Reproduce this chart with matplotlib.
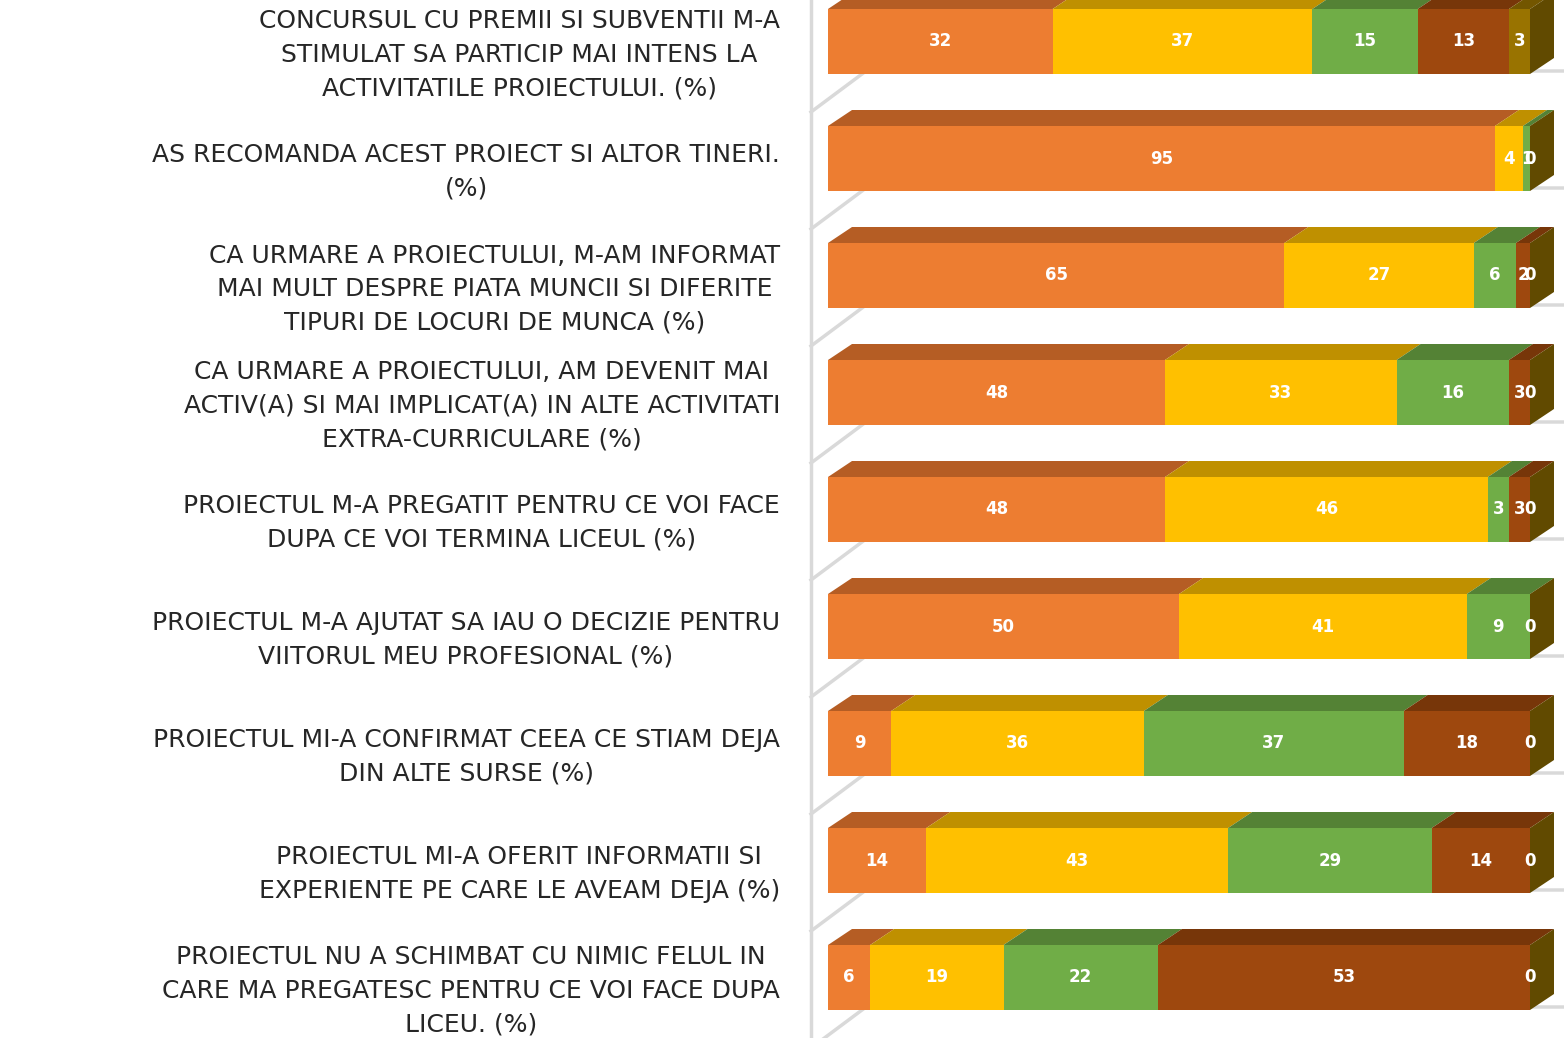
import matplotlib
matplotlib.use("Agg")
import matplotlib.pyplot as plt
import numpy as np

categories = [
    "CONCURSUL CU PREMII SI SUBVENTII M-A\nSTIMULAT SA PARTICIP MAI INTENS LA\nACTIVITATILE PROIECTULUI. (%)",
    "AS RECOMANDA ACEST PROIECT SI ALTOR TINERI.\n(%)",
    "CA URMARE A PROIECTULUI, M-AM INFORMAT\nMAI MULT DESPRE PIATA MUNCII SI DIFERITE\nTIPURI DE LOCURI DE MUNCA (%)",
    "CA URMARE A PROIECTULUI, AM DEVENIT MAI\nACTIV(A) SI MAI IMPLICAT(A) IN ALTE ACTIVITATI\nEXTRA-CURRICULARE (%)",
    "PROIECTUL M-A PREGATIT PENTRU CE VOI FACE\nDUPA CE VOI TERMINA LICEUL (%)",
    "PROIECTUL M-A AJUTAT SA IAU O DECIZIE PENTRU\nVIITORUL MEU PROFESIONAL (%)",
    "PROIECTUL MI-A CONFIRMAT CEEA CE STIAM DEJA\nDIN ALTE SURSE (%)",
    "PROIECTUL MI-A OFERIT INFORMATII SI\nEXPERIENTE PE CARE LE AVEAM DEJA (%)",
    "PROIECTUL NU A SCHIMBAT CU NIMIC FELUL IN\nCARE MA PREGATESC PENTRU CE VOI FACE DUPA\nLICEU. (%)",
]

series1 = [32, 95, 65, 48, 48, 50, 9, 14, 6]
series2 = [37, 4, 27, 33, 46, 41, 36, 43, 19]
series3 = [15, 1, 6, 16, 3, 9, 37, 29, 22]
series4 = [13, 0, 2, 3, 3, 0, 18, 14, 53]
series5 = [3, 0, 0, 0, 0, 0, 0, 0, 0]

series = [series1, series2, series3, series4, series5]
front_colors = ["#ED7D31", "#FFC000", "#70AD47", "#9E480E", "#997300"]
top_colors = ["#B55D24", "#BF9000", "#548235", "#773609", "#735600"]
side_color = "#614A00"

W, H = 1564, 1038
fig = plt.figure(figsize=(W / 100, H / 100), dpi=100)
ax = fig.add_axes([0, 0, 1, 1])

px_per_unit_x = 7.02          # pixels per percent
px_per_row = 117.0
x0_px = 828.0
row0_px = 41.5
ax.set_xlim(-x0_px / px_per_unit_x, (W - x0_px) / px_per_unit_x)
ax.set_ylim((H - row0_px) / px_per_row, -row0_px / px_per_row)
ax.axis("off")

bar_h = 65 / px_per_row
dx = 24 / px_per_unit_x
dy = 16 / px_per_row

n = len(categories)
ypos = np.arange(n)
values = np.array(series, dtype=float)
lefts = np.vstack([np.zeros(n), np.cumsum(values, axis=0)[:-1]])

# wall and floor lines
wall_x = (811 - x0_px) / px_per_unit_x
ax.plot([wall_x, wall_x], [ax.get_ylim()[0], ax.get_ylim()[1]], color="#D9D9D9", lw=2.5, zorder=1)
back_x = (866 - x0_px) / px_per_unit_x
for k in range(-1, n):
    yf = k + (112 - row0_px) / px_per_row
    yb = yf - 41 / px_per_row
    ax.plot([wall_x, back_x, 200], [yf, yb, yb], color="#D9D9D9", lw=2.5, zorder=1,
            solid_joinstyle="miter")

# bars
for s in range(len(series)):
    ax.barh(ypos, values[s], left=lefts[s], height=bar_h, color=front_colors[s],
            edgecolor="none", zorder=3)
    for i in range(n):
        l = lefts[s][i]
        r = l + values[s][i]
        yt = i - bar_h / 2
        if values[s][i] > 0:
            ax.fill([l, l + dx, r + dx, r], [yt, yt - dy, yt - dy, yt],
                    color=top_colors[s], lw=0, zorder=3)

for i in range(n):
    total = values[:, i].sum()
    yt = i - bar_h / 2
    yb = i + bar_h / 2
    ax.fill([total, total + dx, total + dx, total], [yt, yt - dy, yb - dy, yb],
            color=side_color, lw=0, zorder=3)

# data labels (coincident zero labels drawn once)
for i in range(n):
    placed = set()
    for s in range(len(series)):
        v = values[s][i]
        cx = lefts[s][i] + v / 2
        key = (round(cx, 3), int(v))
        if key in placed:
            continue
        placed.add(key)
        ax.text(cx, i, f"{int(v)}", ha="center", va="center", color="white",
                fontsize=12, fontweight="bold", zorder=5)

# category labels
text_x = (780 - x0_px) / px_per_unit_x
for i, c in enumerate(categories):
    ax.text(text_x, i + 13.5 / px_per_row, c, ha="right", va="center",
            multialignment="center", fontsize=18, color="#262626",
            linespacing=1.5, zorder=5)

fig.savefig("out.png", dpi=100)
